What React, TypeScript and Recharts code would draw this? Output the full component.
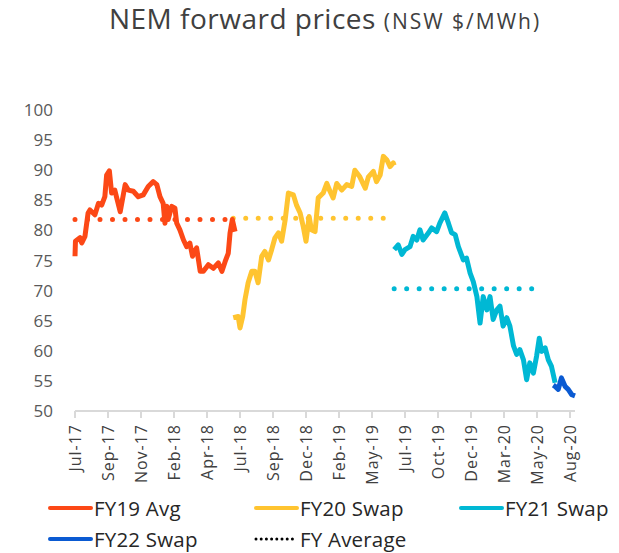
import { LineChart, Line, XAxis, YAxis, Legend } from "recharts";

// x = days since 1-Jul-2017, y = $/MWh
const tickLabels = [
  "Jul-17", "Sep-17", "Nov-17", "Feb-18", "Apr-18", "Jul-18", "Sep-18", "Dec-18",
  "Feb-19", "May-19", "Jul-19", "Oct-19", "Dec-19", "Mar-20", "May-20", "Aug-20",
];
const tickDays = [0, 73, 146, 219, 292, 365, 438, 511, 584, 657, 730, 803, 876, 949, 1022, 1095];
const yTicks = [50, 55, 60, 65, 70, 75, 80, 85, 90, 95, 100];

const fy19Avg = [
  [0, 75.7], [1, 78.2], [11, 78.8], [15, 77.9], [22, 79], [29, 82.9], [33, 83.4], [44, 82.6],
  [52, 84.5], [59, 84.2], [66, 85.6], [70, 89.2], [76, 89.9], [81, 86.2], [88, 86.7], [100, 83.1],
  [111, 87.6], [118, 86.7], [129, 86.5], [140, 85.6], [151, 85.9], [162, 87.3], [173, 88.1],
  [181, 87.6], [188, 85.6], [195, 84.5], [199, 81.2], [203, 84], [206, 81.8], [214, 84], [221, 83.7],
  [225, 81.2], [232, 80.1], [240, 78.4], [247, 77.3], [254, 77.9], [260, 75.7], [269, 77.1],
  [277, 73.2], [284, 73.2], [295, 74.3], [306, 73.7], [317, 74.6], [325, 73.2], [332, 74.8],
  [339, 76.2], [343, 79.6], [348, 81.8], [354, 79.8],
];
const fy20Swap = [
  [350, 65.5], [361, 65.7], [365, 63.8], [371, 65.7], [376, 68.5], [383, 71.3], [391, 73.2],
  [398, 73.2], [405, 71.3], [413, 75.7], [420, 76.5], [428, 75.1], [435, 76.8], [442, 78.7],
  [450, 79.6], [457, 78.2], [465, 81.8], [472, 86.2], [483, 85.9], [490, 84.2], [498, 82.9],
  [505, 80.6], [511, 78.2], [518, 82.3], [523, 80.1], [531, 79.8], [538, 85.4], [549, 86.2],
  [557, 87.8], [564, 86.5], [571, 85.4], [579, 87.8], [590, 86.7], [601, 87.6], [612, 87.3],
  [619, 90], [630, 88.9], [642, 87], [649, 88.9], [660, 89.8], [667, 88.1], [675, 89.2],
  [682, 92.3], [690, 91.7], [697, 90.6], [704, 91.2], [706, 90.8],
];
const fy21Swap = [
  [706, 76.8], [715, 77.6], [723, 76], [730, 76.8], [741, 77.3], [748, 79], [756, 78.4],
  [763, 80.1], [770, 78.4], [782, 79.6], [789, 80.4], [800, 79.8], [807, 81.2], [818, 82.9],
  [826, 81.2], [833, 79.6], [841, 79.3], [848, 77.3], [859, 75.1], [866, 75.4], [874, 72.9],
  [881, 71.5], [889, 69], [896, 64.6], [903, 69], [911, 66.8], [918, 69], [925, 65.2],
  [933, 66.8], [940, 67.4], [947, 64.1], [955, 65.5], [962, 64.1], [970, 60.8], [977, 59.4],
  [984, 60.2], [992, 58.5], [999, 55.2], [1006, 58], [1014, 56.3], [1021, 59.1], [1027, 62.1],
  [1032, 59.9], [1040, 60.5], [1047, 58.5], [1054, 57.4], [1062, 54.7],
];
const fy22Swap = [
  [1058, 54.3], [1062, 54.1], [1069, 53.6], [1076, 55.5], [1084, 54.1], [1091, 53.6], [1099, 52.7], [1106, 52.5],
];
const fy19Mean = [[0, 81.8], [348, 81.8]];
const fy20Mean = [[350, 82.0], [686, 82.0]];
const fy21Mean = [[706, 70.3], [1037, 70.3]];

const legendItems = [
  { label: "FY19 Avg", color: "#FC4816", dotted: false },
  { label: "FY20 Swap", color: "#FFC430", dotted: false },
  { label: "FY21 Swap", color: "#00B8D4", dotted: false },
  { label: "FY22 Swap", color: "#0A5AD2", dotted: false },
  { label: "FY Average", color: "#000000", dotted: true },
];

const toPoints = (rows: number[][]) => rows.map(([d, v]) => ({ d, v }));

const FONT = "'Open Sans', sans-serif";

const XTick = ({ x, y, payload }: any) => {
  const i = tickDays.indexOf(payload.value);
  return (
    <text
      x={x}
      y={y + 4}
      transform={`rotate(-90, ${x}, ${y + 4})`}
      textAnchor="end"
      dy="0.36em"
      fontSize={16}
      letterSpacing={1}
      fill="#404040"
    >
      {tickLabels[i]}
    </text>
  );
};

const LegendBox = () => {
  const cols = [48, 254, 459];
  return (
    <div style={{ position: "relative", width: 619, height: 54, fontFamily: FONT }}>
      {legendItems.map((item, i) => (
        <div
          key={item.label}
          style={{
            position: "absolute",
            left: cols[i % 3],
            top: i < 3 ? 0 : 31,
            display: "flex",
            alignItems: "center",
            height: 22,
          }}
        >
          <svg width={45} height={10}>
            <line
              x1={2}
              y1={5}
              x2={43}
              y2={5}
              stroke={item.color}
              strokeWidth={item.dotted ? 3 : 4}
              strokeLinecap="round"
              strokeDasharray={item.dotted ? "0 5.2" : undefined}
            />
          </svg>
          <span style={{ fontSize: 20.5, lineHeight: "22px", color: "#262626", marginLeft: 1, letterSpacing: 0.2 }}>
            {item.label}
          </span>
        </div>
      ))}
    </div>
  );
};

export default function App() {
  return (
    <div style={{ position: "relative", width: 619, height: 553, background: "#fff" }}>
      <style>{"body{margin:0}"}</style>
      <div
        style={{
          position: "absolute",
          left: 75,
          width: 500,
          top: 0,
          textAlign: "center",
          fontFamily: FONT,
          color: "#404040",
          whiteSpace: "nowrap",
          lineHeight: "36px",
        }}
      >
        <span style={{ fontSize: 28, letterSpacing: 0.5 }}>NEM forward prices </span>
        <span style={{ fontSize: 21, letterSpacing: 2 }}>(NSW $/MWh)</span>
      </div>
      <LineChart
        width={619}
        height={553}
        margin={{ top: 110, right: 44, bottom: 52, left: 15 }}
        style={{ fontFamily: FONT }}
      >
        <XAxis
          dataKey="d"
          type="number"
          domain={[0, 1106]}
          ticks={tickDays}
          interval={0}
          height={90}
          tick={<XTick />}
          stroke="#d9d9d9"
          strokeWidth={2}
          tickSize={7}
        />
        <YAxis
          type="number"
          domain={[50, 100]}
          ticks={yTicks}
          interval={0}
          width={60}
          axisLine={false}
          tickLine={false}
          tickSize={0}
          tickMargin={22}
          tick={{ fontSize: 17, fill: "#595959" }}
        />
        <Legend
          layout="horizontal"
          verticalAlign="middle"
          align="center"
          wrapperStyle={{ left: 0, top: 497, width: 619 }}
          content={() => <LegendBox />}
        />
        {[
          { data: fy19Mean, color: "#FC4816" },
          { data: fy20Mean, color: "#FFC430" },
          { data: fy21Mean, color: "#00B8D4" },
        ].map((s, i) => (
          <Line
            key={"avg" + i}
            data={toPoints(s.data)}
            dataKey="v"
            stroke={s.color}
            strokeWidth={5}
            strokeLinecap="round"
            strokeDasharray="0 12.5"
            dot={false}
            activeDot={false}
            legendType="none"
            isAnimationActive={false}
          />
        ))}
        <Line data={toPoints(fy19Avg)} dataKey="v" stroke="#FC4816" strokeWidth={5} strokeLinejoin="round" dot={false} isAnimationActive={false} />
        <Line data={toPoints(fy20Swap)} dataKey="v" stroke="#FFC430" strokeWidth={5} strokeLinejoin="round" dot={false} isAnimationActive={false} />
        <Line data={toPoints(fy21Swap)} dataKey="v" stroke="#00B8D4" strokeWidth={5} strokeLinejoin="round" dot={false} isAnimationActive={false} />
        <Line data={toPoints(fy22Swap)} dataKey="v" stroke="#0A5AD2" strokeWidth={5} strokeLinejoin="round" dot={false} isAnimationActive={false} />
      </LineChart>
    </div>
  );
}
